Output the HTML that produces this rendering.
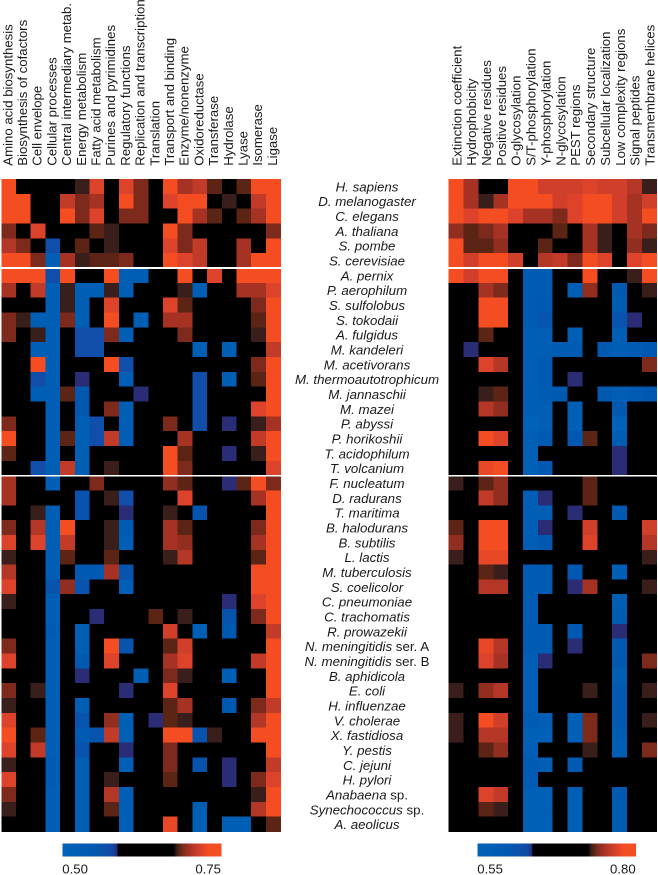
<!DOCTYPE html>
<html>
<head>
<meta charset="utf-8">
<title>Heatmap</title>
<style>
html,body{margin:0;padding:0;background:#fff;width:658px;height:875px;overflow:hidden}
svg{display:block}
text{font-family:"Liberation Sans",Arial,sans-serif;fill:#1a1a1a}
</style>
</head>
<body>
<svg id="chart" width="658" height="875" viewBox="0 0 658 875" xmlns="http://www.w3.org/2000/svg"></svg>
<script>
const functionLabels = ["Amino acid biosynthesis","Biosynthesis of cofactors","Cell envelope","Cellular processes","Central intermediary metab.","Energy metabolism","Fatty acid metabolism","Purines and pyrimidines","Regulatory functions","Replication and transcription","Translation","Transport and binding","Enzyme/nonenzyme","Oxidoreductase","Transferase","Hydrolase","Lyase","Isomerase","Ligase"];
const featureLabels = ["Extinction coefficient","Hydrophobicity","Negative residues","Positive residues","O-glycosylation","S/T-phosphorylation","Y-phosphorylation","N-glycosylation","PEST regions","Secondary structure","Subcellular localization","Low complexity regions","Signal peptides","Transmembrane helices"];
const organismLabels = ["H. sapiens","D. melanogaster","C. elegans","A. thaliana","S. pombe","S. cerevisiae","A. pernix","P. aerophilum","S. sulfolobus","S. tokodaii","A. fulgidus","M. kandeleri","M. acetivorans","M. thermoautotrophicum","M. jannaschii","M. mazei","P. abyssi","P. horikoshii","T. acidophilum","T. volcanium","F. nucleatum","D. radurans","T. maritima","B. halodurans","B. subtilis","L. lactis","M. tuberculosis","S. coelicolor","C. pneumoniae","C. trachomatis","R. prowazekii","N. meningitidis|ser. A","N. meningitidis|ser. B","B. aphidicola","E. coli","H. influenzae","V. cholerae","X. fastidiosa","Y. pestis","C. jejuni","H. pylori","Anabaena|sp.","Synechococcus|sp.","A. aeolicus"];
const groupBoundaries = [6, 20];
const functionScaleLabels = ["0.50","0.75"];
const featureScaleLabels = ["0.55","0.80"];
const functionScaleRange = [0.50, 0.75];
const featureScaleRange = [0.55, 0.80];
const functionValues = [
[.74,.63,.63,.63,.63,.68,.72,.63,.72,.69,.63,.74,.70,.71,.685,.63,.685,.74,.74],
[.74,.74,.63,.63,.71,.69,.70,.63,.74,.69,.63,.72,.74,.74,.63,.68,.63,.71,.74],
[.74,.74,.63,.63,.74,.69,.72,.63,.69,.69,.63,.63,.74,.70,.685,.63,.685,.70,.74],
[.69,.63,.72,.63,.63,.63,.685,.68,.63,.63,.63,.74,.69,.63,.63,.63,.63,.63,.69],
[.705,.69,.63,.57,.63,.685,.63,.68,.63,.63,.63,.72,.69,.71,.63,.63,.70,.63,.74],
[.74,.74,.69,.52,.70,.68,.685,.685,.69,.63,.63,.74,.72,.71,.63,.63,.70,.74,.74],
[.74,.74,.74,.57,.74,.63,.63,.74,.52,.52,.63,.63,.74,.63,.72,.63,.74,.74,.74],
[.70,.63,.71,.52,.68,.52,.52,.68,.52,.63,.63,.63,.68,.52,.63,.63,.70,.70,.72],
[.63,.63,.63,.52,.68,.52,.63,.72,.63,.63,.63,.72,.685,.63,.63,.63,.63,.69,.74],
[.69,.68,.52,.52,.69,.52,.63,.74,.63,.52,.63,.70,.70,.63,.63,.63,.63,.685,.74],
[.69,.63,.68,.52,.63,.57,.57,.69,.52,.63,.63,.63,.69,.63,.63,.63,.63,.68,.74],
[.63,.63,.52,.52,.63,.57,.57,.63,.63,.63,.63,.63,.63,.52,.63,.52,.63,.63,.71],
[.63,.63,.74,.52,.63,.63,.63,.73,.57,.63,.63,.63,.63,.63,.63,.63,.63,.69,.74],
[.63,.63,.57,.52,.63,.585,.63,.63,.52,.63,.63,.63,.63,.57,.63,.52,.63,.685,.74],
[.63,.63,.52,.52,.685,.55,.63,.63,.63,.585,.63,.63,.63,.57,.63,.63,.63,.63,.74],
[.63,.63,.63,.52,.63,.55,.63,.69,.52,.63,.63,.63,.63,.57,.63,.63,.63,.72,.74],
[.69,.63,.63,.52,.63,.52,.57,.63,.52,.63,.63,.69,.63,.57,.63,.585,.63,.68,.70],
[.74,.63,.63,.52,.685,.52,.57,.71,.52,.63,.63,.63,.70,.63,.63,.63,.63,.71,.74],
[.685,.63,.63,.52,.63,.52,.63,.63,.63,.63,.63,.74,.685,.63,.63,.585,.63,.68,.74],
[.63,.63,.57,.52,.71,.52,.63,.68,.63,.63,.63,.74,.69,.63,.63,.63,.63,.63,.72],
[.70,.63,.63,.52,.63,.63,.69,.63,.63,.63,.63,.695,.685,.63,.63,.585,.685,.74,.69],
[.70,.63,.63,.63,.63,.56,.63,.68,.57,.63,.63,.63,.72,.63,.63,.63,.63,.70,.74],
[.63,.63,.68,.52,.63,.56,.63,.63,.585,.63,.63,.68,.63,.56,.63,.63,.63,.63,.74],
[.69,.63,.705,.52,.74,.63,.63,.68,.53,.63,.63,.70,.685,.63,.63,.63,.63,.69,.74],
[.72,.63,.72,.52,.71,.63,.63,.68,.52,.63,.63,.70,.695,.63,.63,.63,.63,.70,.74],
[.68,.63,.63,.52,.685,.63,.63,.685,.63,.63,.63,.68,.705,.63,.63,.63,.63,.685,.74],
[.705,.63,.63,.52,.63,.54,.54,.70,.56,.63,.63,.63,.63,.63,.63,.63,.63,.74,.74],
[.72,.63,.63,.56,.695,.56,.63,.63,.52,.63,.63,.63,.63,.63,.63,.63,.63,.74,.74],
[.68,.63,.63,.52,.63,.63,.63,.63,.63,.63,.63,.63,.63,.63,.63,.585,.63,.72,.74],
[.63,.63,.63,.52,.63,.63,.585,.63,.63,.63,.685,.63,.68,.63,.63,.56,.63,.69,.74],
[.63,.63,.63,.53,.63,.52,.63,.63,.63,.63,.63,.715,.63,.52,.63,.55,.63,.63,.71],
[.69,.63,.63,.52,.63,.52,.63,.74,.56,.63,.63,.685,.715,.63,.63,.63,.63,.63,.74],
[.72,.63,.63,.52,.63,.54,.63,.72,.63,.63,.63,.70,.72,.63,.63,.63,.63,.71,.74],
[.63,.63,.63,.52,.63,.585,.63,.63,.63,.52,.63,.69,.68,.63,.63,.52,.63,.63,.74],
[.69,.63,.68,.52,.63,.63,.63,.63,.585,.63,.63,.72,.63,.63,.63,.63,.63,.63,.74],
[.68,.63,.63,.52,.63,.52,.63,.63,.63,.63,.63,.685,.70,.63,.63,.55,.63,.69,.71],
[.72,.63,.63,.52,.63,.56,.63,.695,.52,.63,.585,.685,.68,.63,.63,.63,.63,.705,.74],
[.74,.63,.685,.52,.63,.53,.56,.71,.51,.63,.63,.73,.74,.56,.68,.63,.63,.74,.74],
[.72,.63,.71,.52,.63,.56,.63,.63,.585,.63,.63,.69,.63,.63,.63,.63,.63,.63,.74],
[.68,.63,.63,.53,.63,.52,.63,.63,.52,.63,.63,.69,.63,.56,.63,.585,.63,.63,.71],
[.72,.63,.63,.53,.63,.52,.63,.68,.63,.63,.63,.685,.63,.63,.63,.585,.63,.69,.72],
[.69,.63,.63,.52,.63,.52,.63,.705,.52,.63,.63,.63,.63,.63,.63,.63,.63,.68,.74],
[.68,.63,.63,.52,.63,.52,.63,.685,.52,.63,.63,.63,.63,.52,.63,.63,.63,.705,.74],
[.63,.63,.63,.52,.63,.52,.63,.63,.52,.63,.63,.725,.63,.52,.63,.52,.52,.63,.685]
];
const featureValues = [
[.79,.75,.68,.68,.79,.78,.765,.765,.765,.77,.765,.765,.755,.73],
[.79,.75,.73,.75,.79,.78,.78,.765,.77,.79,.79,.765,.75,.765],
[.79,.77,.79,.79,.77,.75,.75,.74,.77,.79,.79,.765,.75,.79],
[.745,.735,.74,.75,.68,.68,.68,.735,.68,.75,.73,.68,.75,.74],
[.79,.735,.735,.745,.68,.68,.735,.68,.68,.75,.73,.68,.745,.73],
[.79,.765,.79,.79,.765,.68,.755,.76,.74,.79,.77,.68,.77,.79],
[.79,.765,.785,.785,.68,.58,.585,.68,.68,.785,.68,.68,.73,.79],
[.68,.68,.75,.74,.68,.58,.58,.68,.57,.745,.68,.59,.68,.73],
[.68,.68,.79,.79,.68,.58,.59,.68,.68,.68,.68,.585,.68,.68],
[.68,.68,.79,.79,.68,.58,.61,.68,.68,.68,.68,.61,.635,.68],
[.68,.68,.735,.68,.68,.57,.57,.68,.57,.68,.68,.57,.68,.68],
[.68,.635,.68,.68,.68,.57,.57,.58,.58,.68,.59,.57,.58,.60],
[.68,.68,.77,.755,.68,.57,.59,.68,.68,.68,.68,.68,.68,.74],
[.68,.68,.68,.68,.68,.57,.59,.68,.635,.68,.68,.68,.68,.68],
[.68,.68,.73,.735,.68,.57,.58,.59,.68,.68,.60,.57,.58,.60],
[.68,.68,.755,.745,.68,.57,.57,.68,.57,.68,.68,.59,.68,.68],
[.68,.68,.68,.68,.68,.55,.57,.68,.57,.68,.68,.55,.68,.68],
[.68,.68,.79,.77,.68,.57,.59,.68,.60,.735,.68,.575,.68,.68],
[.68,.68,.68,.68,.68,.56,.68,.68,.68,.68,.68,.635,.68,.68],
[.68,.68,.775,.79,.68,.56,.60,.68,.68,.68,.68,.635,.68,.68],
[.73,.68,.735,.745,.68,.68,.68,.68,.68,.735,.68,.68,.68,.68],
[.68,.68,.76,.745,.68,.57,.635,.68,.68,.735,.68,.68,.68,.68],
[.68,.68,.68,.68,.68,.57,.57,.68,.635,.68,.68,.59,.68,.68],
[.735,.68,.79,.79,.68,.57,.635,.68,.68,.765,.68,.68,.68,.765],
[.745,.68,.79,.79,.68,.57,.60,.68,.68,.77,.68,.68,.68,.755],
[.73,.68,.775,.775,.68,.68,.68,.68,.68,.68,.68,.68,.68,.73],
[.68,.68,.735,.73,.68,.58,.58,.68,.60,.68,.68,.57,.68,.68],
[.68,.68,.755,.755,.68,.58,.58,.68,.635,.75,.68,.68,.68,.73],
[.68,.68,.68,.68,.68,.58,.68,.68,.68,.68,.68,.57,.68,.68],
[.68,.68,.68,.68,.68,.58,.68,.68,.68,.68,.68,.58,.68,.68],
[.68,.68,.68,.68,.68,.58,.58,.68,.60,.68,.68,.635,.68,.68],
[.68,.68,.775,.755,.68,.58,.58,.68,.635,.68,.68,.59,.68,.68],
[.68,.68,.77,.75,.68,.57,.635,.68,.68,.68,.68,.60,.68,.74],
[.68,.68,.68,.68,.68,.57,.68,.68,.68,.68,.68,.57,.68,.68],
[.73,.68,.745,.755,.68,.57,.68,.68,.68,.73,.68,.59,.68,.73],
[.68,.68,.68,.68,.68,.57,.68,.68,.68,.68,.68,.59,.68,.68],
[.73,.68,.78,.765,.68,.58,.57,.68,.56,.74,.68,.59,.68,.73],
[.73,.68,.755,.755,.68,.56,.56,.68,.56,.74,.68,.58,.68,.68],
[.68,.68,.735,.745,.68,.57,.68,.68,.68,.73,.68,.57,.68,.74],
[.68,.68,.68,.68,.68,.58,.57,.68,.59,.68,.68,.68,.68,.68],
[.68,.68,.68,.68,.68,.58,.68,.68,.68,.68,.68,.68,.68,.68],
[.68,.68,.77,.76,.68,.56,.56,.68,.57,.68,.68,.59,.68,.68],
[.68,.68,.735,.73,.68,.56,.57,.68,.57,.68,.68,.58,.68,.68],
[.68,.68,.68,.68,.68,.56,.56,.68,.57,.68,.68,.58,.68,.68]
];

const svg = document.getElementById('chart');
const NS = 'http://www.w3.org/2000/svg';
const rowTop = 179, rowHeight = 14.83;
const labelBottom = 165.7;

function make(tag, attrs, parent) {
  const el = document.createElementNS(NS, tag);
  for (const k in attrs) el.setAttribute(k, attrs[k]);
  (parent || svg).appendChild(el);
  return el;
}
function yScale(r) { return rowTop + r * rowHeight; }

const stops = [
  [0,    [0,98,184]],
  [.05,  [0,88,176]],
  [.07,  [16,78,170]],
  [.08,  [14,72,165]],
  [.082, [30,60,150]],
  [.085, [42,45,117]],
  [.0885,[0,0,0]],
  [.175, [0,0,0]],
  [.18,  [58,30,28]],
  [.185, [92,36,20]],
  [.19,  [125,42,28]],
  [.20,  [166,50,36]],
  [.21,  [194,59,40]],
  [.22,  [220,67,42]],
  [.23,  [245,77,34]],
  [.25,  [245,77,34]]
];
function colorFor(v, range) {
  const d = Math.max(0, Math.min(.25, (v - range[0]) / (range[1] - range[0]) * .25));
  for (let i = 1; i < stops.length; i++) {
    if (d <= stops[i][0]) {
      const a = stops[i - 1], b = stops[i];
      const t = (d - a[0]) / ((b[0] - a[0]) || 1);
      const c = a[1].map((q, j) => Math.round(q + (b[1][j] - q) * t));
      return 'rgb(' + c.join(',') + ')';
    }
  }
  return 'rgb(245,77,34)';
}

function drawPanel(name, values, labels, x0, colWidth, baseOffset, range) {
  const xScale = c => x0 + c * colWidth;
  const g = make('g', {'shape-rendering': 'crispEdges'});
  
  
  values.forEach((row, r) => {
    row.forEach((v, c) => {
      const cell = make('rect', {
        x: xScale(c), y: yScale(r),
        width: colWidth + .3, height: rowHeight + .3,
        fill: colorFor(v, range)
      }, g);
      
      
    });
  });
  groupBoundaries.forEach((b, i) => {
    const sep = make('rect', {
      x: x0, y: yScale(b) - (i === 0 ? 1.2 : .8),
      width: colWidth * labels.length + 1, height: i === 0 ? 2 : 1.5, fill: '#fff'
    }, g);
    
    
  });
  labels.forEach((t, c) => {
    const bx = xScale(c) + baseOffset;
    const tx = make('text', {
      x: 0, y: 0,
      transform: 'translate(' + bx + ',' + labelBottom + ') rotate(-90)',
      'font-size': 13.2
    });
    tx.textContent = t;
    
    
  });
}

drawPanel('function', functionValues, functionLabels, 1.3, 14.7, 11, functionScaleRange);
drawPanel('feature', featureValues, featureLabels, 448.7, 14.86, 12.6, featureScaleRange);

organismLabels.forEach((t, r) => {
  const parts = t.split('|');
  const tx = make('text', {
    x: 367, y: yScale(r) + rowHeight / 2 + 5,
    'text-anchor': 'middle', 'font-size': 13.3, 'font-style': 'italic'
  });
  
  
  const a = make('tspan', {}, tx);
  a.textContent = parts[0];
  if (parts[1]) {
    const b = make('tspan', {'font-style': 'normal'}, tx);
    b.textContent = ' ' + parts[1];
  }
});

function drawColorbar(name, x0, x1, range, tickLabels) {
  const y0 = 843.3, h = 13.4;
  const barX = v => x0 + (v - range[0]) / (range[1] - range[0]) * (x1 - x0);
  const g = make('g', {'shape-rendering': 'crispEdges'});
  
  
  const steps = 160;
  for (let i = 0; i < steps; i++) {
    const v = range[0] + (range[1] - range[0]) * i / steps;
    const s = make('rect', {
      x: barX(v), y: y0, width: (x1 - x0) / steps + .4, height: h,
      fill: colorFor(v + (range[1] - range[0]) / steps / 2, range)
    }, g);
    
    
  }
  const lo = make('text', {x: x0, y: 873.3, 'font-size': 13.2});
  lo.textContent = tickLabels[0];
  
  
  const hi = make('text', {x: x1, y: 873.3, 'font-size': 13.2, 'text-anchor': 'end'});
  hi.textContent = tickLabels[1];
  
  
}
drawColorbar('function', 62.3, 221, functionScaleRange, functionScaleLabels);
drawColorbar('feature', 477.3, 635.7, featureScaleRange, featureScaleLabels);
</script>
</body>
</html>
